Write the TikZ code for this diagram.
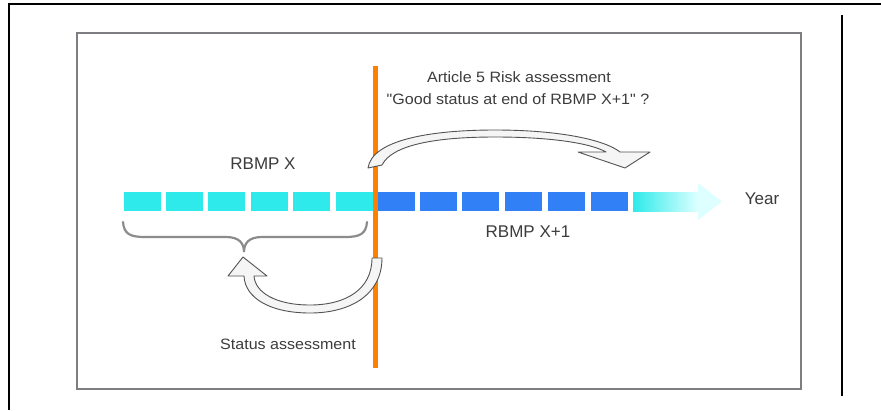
\documentclass[tikz,border=0pt]{standalone}
\usepackage{fontspec}
\setmainfont{Liberation Sans}[Ligatures=TeXOff]
\usetikzlibrary{calc}
\definecolor{cyansq}{RGB}{46,234,234}
\definecolor{bluesq}{RGB}{50,128,245}
\definecolor{lightcy}{RGB}{222,255,255}
\definecolor{orangeln}{RGB}{255,128,0}
\definecolor{txt}{RGB}{60,60,60}
\definecolor{bracegray}{RGB}{140,140,140}
\definecolor{framegray}{RGB}{125,125,130}
\tikzset{
  sq/.style={inner sep=0pt, minimum width=37pt, minimum height=19pt, draw=none},
  cysq/.style={sq, fill=cyansq},
  blsq/.style={sq, fill=bluesq},
  lbl/.style={text=txt, inner sep=0pt, font=\fontsize{17}{20}\selectfont},
  small/.style={text=txt, inner sep=0pt, font=\fontsize{15}{18}\selectfont},
  blockarrow/.style={fill=white!96!black, draw=gray!65!black, line width=0.9pt, line join=round},
}
\begin{document}
\begin{tikzpicture}[x=1pt,y=-1pt]
\useasboundingbox (0,0) rectangle (881,410);
\fill[white] (0,0) rectangle (881,410);
% outer frame
\draw[black, line width=2pt] (881,4) -- (9,4) -- (9,410);
\draw[black, line width=1.5pt] (842,15) -- (842,396);
% inner box
\draw[framegray, line width=2pt] (77,33) rectangle (801,389);
% cyan squares
\foreach \i/\x in {1/142,2/184.5,3/226.5,4/269,5/311.5} {
  \node[cysq] (c\i) at (\x,201.5) {};
}
\node[cysq, minimum width=38pt] (c6) at (355,201.5) {};
% blue squares
\foreach \i/\x in {1/396,2/438,3/480.5,4/523,5/566,6/609} {
  \node[blsq] (b\i) at (\x,201.5) {};
}
% gradient arrow
\shade[left color=cyansq, right color=lightcy] (633,192) rectangle (698,211);
\fill[lightcy] (698,183) -- (722,201.5) -- (698,220) -- cycle;
\node[lbl, anchor=center] (year) at (762,199) {Year};
% orange line
\draw[orangeln, line width=5pt] (375,66) -- (375,368);
% brace
\draw[bracegray, line width=2.2pt, line cap=round] (123,222) .. controls (124,234) and (130,237) .. (145,237) -- (226,237) .. controls (239,237) and (244,243) .. (244,252) .. controls (244,243) and (249,237) .. (262,237) -- (345,237) .. controls (360,237) and (366,234) .. (367,222);
% upper block arrow
\draw[blockarrow] (368,168) .. controls (372,140) and (430,130) .. (495,130) .. controls (560,130) and (605,140) .. (620,152) -- (650,152) -- (625,168) -- (578,152) -- (606,152) .. controls (590,143) and (550,137) .. (495,137) .. controls (435,137) and (392,145) .. (382,165) -- cycle;
% lower block arrow
\draw[blockarrow] (372,258) .. controls (372,290) and (345,305) .. (310,305) .. controls (275,305) and (255,292) .. (254,276) -- (267,276) -- (243,257) -- (228,276) -- (244,276) .. controls (245,298) and (270,313) .. (310,313) .. controls (350,313) and (382,295) .. (382,258) -- cycle;
% labels
\node[small] (art) at (519,77) {\scalebox{1.07}[1]{Article 5 Risk assessment}};
\node[small] (good) at (518,99) {\scalebox{1.07}[1]{"Good status at end of RBMP X+1" ?}};
\node[lbl] (rx) at (263,164) {RBMP X};
\node[lbl] (rx1) at (528,232) {RBMP X+1};
\node[small] (stat) at (288,344) {\scalebox{1.07}[1]{Status assessment}};
\end{tikzpicture}
\end{document}
